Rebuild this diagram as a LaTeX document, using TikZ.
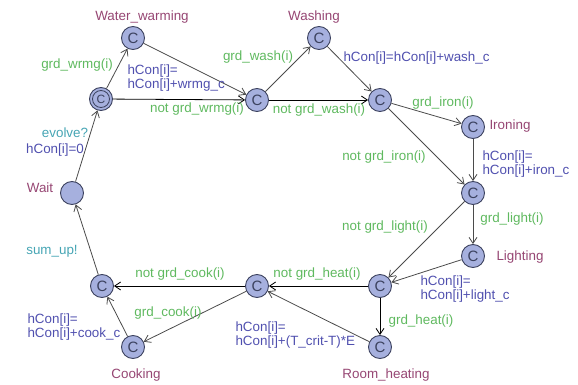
\documentclass[tikz,border=0pt]{standalone}
\usepackage{fontspec}
\setmainfont{Liberation Sans}
\usetikzlibrary{arrows.meta}

\definecolor{locname}{RGB}{150,70,115}
\definecolor{guardc}{RGB}{95,185,95}
\definecolor{updatec}{RGB}{80,80,175}
\definecolor{syncc}{RGB}{70,165,180}
\definecolor{locfill}{RGB}{166,176,222}
\definecolor{locline}{RGB}{60,66,95}
\definecolor{edgegray}{RGB}{75,75,75}

\tikzset{
  loc/.style={circle, draw=locline, fill=locfill, line width=0.9pt,
    minimum size=23pt, inner sep=0pt, text=locline,
    font=\fontsize{15}{15}\selectfont},
  edge/.style={draw=edgegray, line width=0.8pt,
    -{Straight Barb[length=6pt,width=8pt]}},
  hedge/.style={edge, draw=black},
  lname/.style={text=locname},
  guard/.style={text=guardc},
  update/.style={text=updatec, align=left, anchor=west},
  sync/.style={text=syncc},
}

\begin{document}
\begin{tikzpicture}[x=1pt,y=-1pt,
  font=\fontsize{13.4}{14.5}\selectfont]
\useasboundingbox (0,0) rectangle (578,385);

% locations
\node[loc] (init) at (101,99) {};
\draw[locline, line width=0.8pt] (init.center) circle (8.5pt);
\node[text=locline, font=\fontsize{12}{12}\selectfont] (initc) at (init.center) {C};
\node[loc] (ww)   at (133,38)  {C};
\node[loc] (c1)   at (257,100) {C};
\node[loc] (wash) at (319,38)  {C};
\node[loc] (c2)   at (380,100) {C};
\node[loc] (iron) at (473,127) {C};
\node[loc] (c3)   at (473,193) {C};
\node[loc] (lght) at (473,256) {C};
\node[loc] (c4)   at (380,286) {C};
\node[loc] (heat) at (380,347) {C};
\node[loc] (c5)   at (257,286) {C};
\node[loc] (cook) at (133,347) {C};
\node[loc] (c6)   at (102,286) {C};
\node[loc] (wait) at (72,193)  {};

% location names
\node[lname] (nww)   at (142,17)  {Water\_warming};
\node[lname] (nwash) at (314,17)  {Washing};
\node[lname] (niron) at (510,126) {Ironing};
\node[lname] (nlght) at (520,257) {Lighting};
\node[lname] (nheat) at (386,375) {Room\_heating};
\node[lname] (ncook) at (136,375) {Cooking};
\node[lname] (nwait) at (40,188)  {Wait};

% transitions
\draw[edge]  (init) -- (ww);
\draw[edge]  (ww) -- (c1);
\draw[hedge] (init) -- (c1);
\draw[edge]  (c1) -- (wash);
\draw[edge]  (wash) -- (c2);
\draw[hedge] (c1) -- (c2);
\draw[edge]  (c2) -- (iron);
\draw[edge]  (c2) -- (c3);
\draw[edge]  (iron) -- (c3);
\draw[edge]  (c3) -- (lght);
\draw[edge]  (c3) -- (c4);
\draw[edge]  (lght) -- (c4);
\draw[hedge] (c4) -- (c5);
\draw[hedge] (c4) -- (heat);
\draw[edge]  (heat) -- (c5);
\draw[edge]  (c5) -- (cook);
\draw[hedge] (c5) -- (c6);
\draw[edge]  (cook) -- (c6);
\draw[edge]  (c6) -- (wait);
\draw[edge]  (wait) -- (init);

% guards
\node[guard] (g1)  at (77,65)   {grd\_wrmg(i)};
\node[guard] (g2)  at (197,109) {not grd\_wrmg(i)};
\node[guard] (g3)  at (258,57)  {grd\_wash(i)};
\node[guard] (g4)  at (319,110) {not grd\_wash(i)};
\node[guard] (g5)  at (443,103) {grd\_iron(i)};
\node[guard] (g6)  at (384,157) {not grd\_iron(i)};
\node[guard] (g7)  at (512,219) {grd\_light(i)};
\node[guard] (g8)  at (385,227) {not grd\_light(i)};
\node[guard] (g9)  at (317,274) {not grd\_heat(i)};
\node[guard] (g10) at (421,321) {grd\_heat(i)};
\node[guard] (g11) at (180,274) {not grd\_cook(i)};
\node[guard] (g12) at (168,313) {grd\_cook(i)};

% updates
\node[update] (u1) at (124,78)  {hCon[i]=\\hCon[i]+wrmg\_c};
\node[update] (u2) at (340,58)  {hCon[i]=hCon[i]+wash\_c};
\node[update] (u3) at (479,164) {hCon[i]=\\hCon[i]+iron\_c};
\node[update] (u4) at (417,289) {hCon[i]=\\hCon[i]+light\_c};
\node[update] (u5) at (232,335) {hCon[i]=\\hCon[i]+(T\_crit-T)*E};
\node[update] (u6) at (24,327)  {hCon[i]=\\hCon[i]+cook\_c};
\node[text=updatec] (u7) at (55,150) {hCon[i]=0};

% synchronisations
\node[sync] (s1) at (65,133) {evolve?};
\node[sync] (s2) at (52,251) {sum\_up!};
\end{tikzpicture}
\end{document}
